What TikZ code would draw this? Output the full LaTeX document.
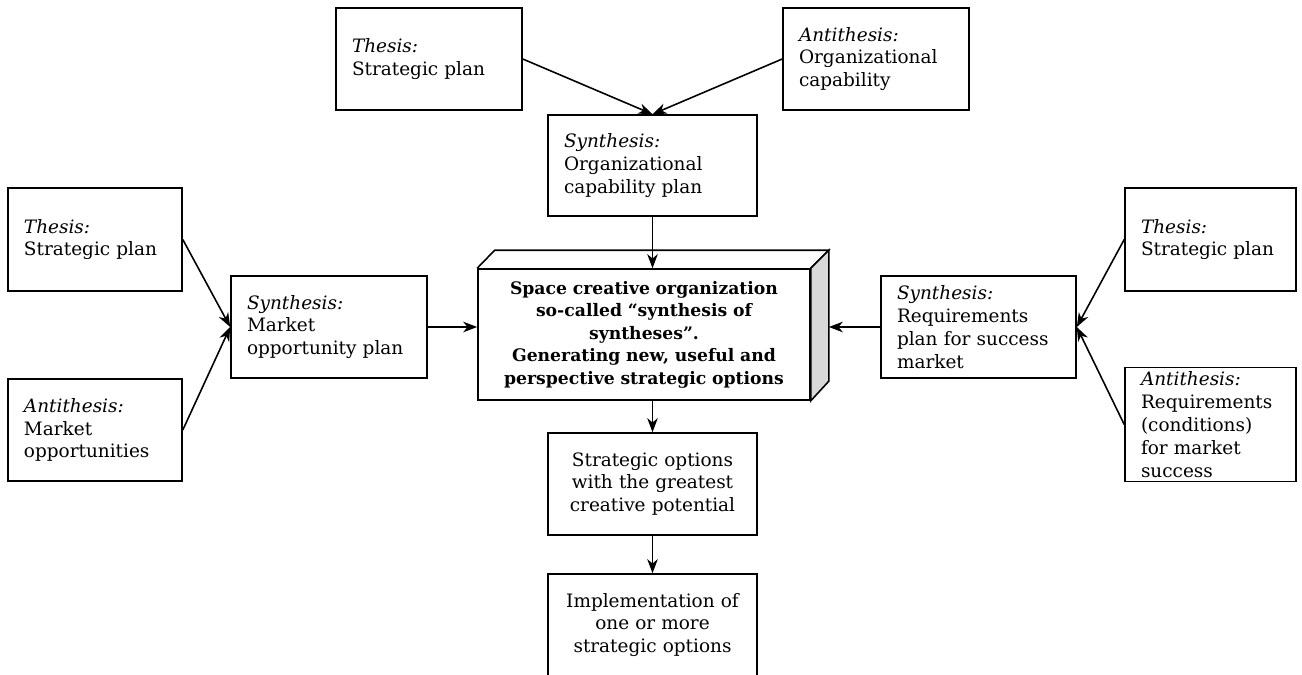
\documentclass[tikz,border=0pt]{standalone}
\usepackage{fontspec}
\setmainfont{DejaVu Serif}
\usetikzlibrary{arrows.meta,%
                positioning}

\begin{document}
\begin{tikzpicture}[transform shape]

  \useasboundingbox (0,0) rectangle (26.04,-13.48);

\tikzstyle{box}=[draw,line width=0.9pt,inner xsep=0.32cm,inner ysep=0.08cm,align=left,
                 font=\fontsize{10.5}{13}\selectfont,minimum height=2.04cm]
\tikzstyle{mid}=[box,align=center]
\tikzstyle{link}=[-{Stealth[length=8pt,width=6pt,inset=2.5pt]},line width=0.9pt]

  \node[box,text width=3.08cm] (tTh) at (8.58,-1.18) {\textit{Thesis:}\\Strategic plan};
  \node[box,text width=3.08cm] (tAn) at (17.52,-1.18) {\textit{Antithesis:}\\Organizational\\capability};
  \node[box,text width=3.54cm,minimum height=2.02cm] (tSy) at (13.05,-3.31) {\textit{Synthesis:}\\Organizational\\capability plan};

  \node[box,text width=2.84cm,minimum height=2.06cm] (lTh) at (1.9,-4.79) {\textit{Thesis:}\\Strategic plan};
  \node[box,text width=2.84cm] (lAn) at (1.9,-8.6) {\textit{Antithesis:}\\Market\\opportunities};
  \node[box,text width=3.28cm] (lSy) at (6.58,-6.54) {\textit{Synthesis:}\\Market\\opportunity plan};

  \node[mid,text width=6.0cm,minimum height=2.62cm,font=\fontsize{9.8}{12.8}\selectfont\bfseries] (ctr) at (12.88,-6.69)
    {Space creative organization\\so-called ``synthesis of\\syntheses''.\\Generating new, useful and\\perspective strategic options};
  \draw[line width=0.9pt] (ctr.north west) -- ++(0.35,0.36) -- ([shift={(0.36,0.36)}]ctr.north east) -- (ctr.north east);
  \draw[line width=0.9pt,fill=gray!30] (ctr.north east) -- ++(0.36,0.36) -- ++(0,-2.62) -- (ctr.south east) -- cycle;
  \coordinate (ctrE) at ([xshift=0.36cm]ctr.east);

  \node[box,text width=3.26cm] (rSy) at (19.57,-6.54) {\textit{Synthesis:}\\Requirements\\plan for success\\market};
  \node[box,text width=2.78cm,minimum height=2.06cm] (rTh) at (24.21,-4.79) {\textit{Thesis:}\\Strategic plan};
  \node[box,text width=2.78cm,minimum height=2.26cm] (rAn) at (24.21,-8.49) {\textit{Antithesis:}\\Requirements\\(conditions)\\for market\\success};

  \node[mid,text width=3.54cm] (opt) at (13.05,-9.68) {Strategic options\\with the greatest\\creative potential};
  \node[mid,text width=3.54cm] (imp) at (13.05,-12.5) {Implementation of\\one or more\\strategic options};

\draw[link] (tTh.east) -- (tSy.north);
\draw[link] (tAn.west) -- (tSy.north);
\draw[link] (tSy) -- (tSy |- ctr.north);
\draw[link] (lTh.east) -- (lSy.west);
\draw[link] (lAn.east) -- (lSy.west);
\draw[link] (lSy.east) -- (lSy.east -| ctr.west);
\draw[link] (rTh.west) -- (rSy.east);
\draw[link] (rAn.west) -- (rSy.east);
\draw[link] (rSy.west) -- (rSy.west -| ctrE);
\draw[link] (opt |- ctr.south) -- (opt);
\draw[link] (opt) -- (imp);
\end{tikzpicture}
\end{document}
